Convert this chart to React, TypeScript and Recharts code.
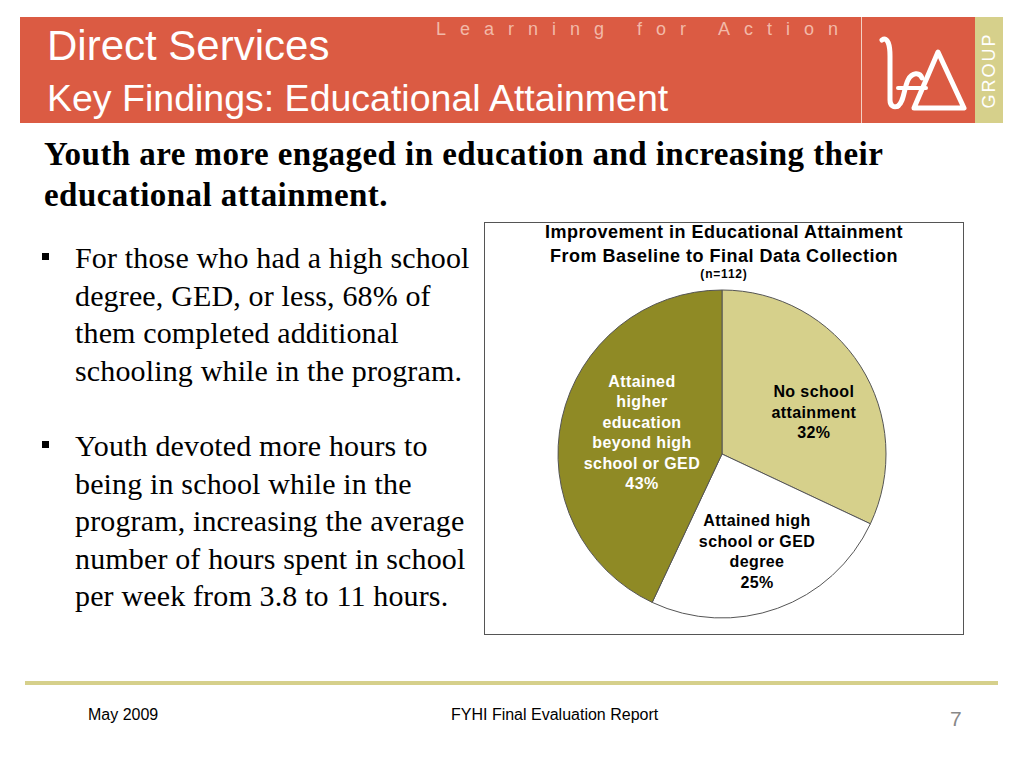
import { Cell, Pie, PieChart } from 'recharts'

// educational attainment at final data collection (n=112)
const categories = ['No school attainment', 'Attained high school or GED degree', 'Attained higher education beyond high school or GED']
const shares = [32, 25, 43]
const labelLines = [
  ['No school', 'attainment'],
  ['Attained high', 'school or GED', 'degree'],
  ['Attained', 'higher', 'education', 'beyond high', 'school or GED'],
]
const chartTitle = ['Improvement in Educational Attainment', 'From Baseline to Final Data Collection']
const sampleNote = '(n=112)'

const bullets = [
  ['For those who had a high school', 'degree, GED, or less, 68% of', 'them completed additional', 'schooling while in the program.'],
  ['Youth devoted more hours to', 'being in school while in the', 'program, increasing the average', 'number of hours spent in school', 'per week from 3.8 to 11 hours.'],
]

const SLICE_FILL = ['#D6D08B', '#FFFFFF', '#8F8A25']
const LABEL_FILL = ['#000000', '#000000', '#FFFFFF']
const RED = '#DB5B43'
const KHAKI = '#D6D08B'
const SANS = "'Liberation Sans', Arial, sans-serif"
const SERIF = "'Liberation Serif', 'Times New Roman', serif"

const data = categories.map((name, i) => ({ name, value: shares[i] }))

const RADIAN = Math.PI / 180
const LABEL_RADIUS = [0.62, 0.63, 0.5]
const LABEL_NUDGE = [[6, 12], [0, 0], [0, -4]]

function SliceLabel(props: any) {
  const { cx, cy, midAngle, outerRadius, index, value } = props
  const r = outerRadius * LABEL_RADIUS[index]
  const x = cx + r * Math.cos(-midAngle * RADIAN) + LABEL_NUDGE[index][0]
  const y = cy + r * Math.sin(-midAngle * RADIAN) + LABEL_NUDGE[index][1]
  const lines = [...labelLines[index], `${value}%`]
  const lh = 20.5
  const top = y - ((lines.length - 1) * lh) / 2
  return (
    <text
      x={x}
      y={top}
      textAnchor="middle"
      dominantBaseline="central"
      fill={LABEL_FILL[index]}
      style={{ fontFamily: SANS, fontSize: 16, fontWeight: 700, letterSpacing: 0.4 }}
    >
      {lines.map((ln, i) => (
        <tspan key={i} x={x} y={top + i * lh}>
          {ln}
        </tspan>
      ))}
    </text>
  )
}

function Logo() {
  return (
    <svg width={100} height={100} style={{ position: 'absolute', left: 868, top: 22 }}>
      <path d="M14 18 C 20 14, 22 24, 22 34 L 22 78 C 22 84, 26 86, 30 84" stroke="#fff" strokeWidth={5} fill="none" strokeLinecap="round" />
      <path d="M30 84 C 36 80, 36 66, 40 58 C 44 50, 52 50, 54 56" stroke="#fff" strokeWidth={5} fill="none" strokeLinecap="round" />
      <path d="M30 66 L 58 66" stroke="#fff" strokeWidth={4} fill="none" strokeLinecap="round" />
      <path d="M70 30 L 96 86 L 46 86 Z" stroke="#fff" strokeWidth={5} fill="none" strokeLinejoin="round" />
    </svg>
  )
}

export default function App() {
  return (
    <div style={{ position: 'absolute', left: 0, top: 0, width: 1024, height: 768, background: '#fff', overflow: 'hidden' }}>
      {/* header band */}
      <div style={{ position: 'absolute', left: 20, top: 17, width: 955, height: 106, background: RED }} />
      <div style={{ position: 'absolute', left: 975, top: 17, width: 28, height: 106, background: KHAKI }} />
      <div style={{ position: 'absolute', left: 861, top: 17, width: 1, height: 106, background: '#F3D0C4' }} />
      <div
        style={{
          position: 'absolute', left: 975, top: 17, width: 28, height: 106, display: 'flex',
          alignItems: 'center', justifyContent: 'center',
        }}
      >
        <span style={{ transform: 'rotate(-90deg)', color: '#fff', fontFamily: SANS, fontSize: 18, letterSpacing: 2, whiteSpace: 'nowrap' }}>
          GROUP
        </span>
      </div>
      <Logo />
      <div style={{ position: 'absolute', left: 436, top: 18, color: '#F2B9A8', fontFamily: SANS, fontSize: 18, letterSpacing: 14, whiteSpace: 'nowrap', lineHeight: '22px' }}>
        Learning for Action
      </div>
      <div style={{ position: 'absolute', left: 47, top: 22, color: '#fff', fontFamily: SANS, fontSize: 42, lineHeight: '48px', whiteSpace: 'nowrap' }}>
        Direct Services
      </div>
      <div style={{ position: 'absolute', left: 47, top: 77, color: '#fff', fontFamily: SANS, fontSize: 37.5, lineHeight: '42px', whiteSpace: 'nowrap' }}>
        Key Findings: Educational Attainment
      </div>

      {/* lead sentence */}
      <div style={{ position: 'absolute', left: 44, top: 134, fontFamily: SERIF, fontWeight: 700, fontSize: 33, letterSpacing: 0.45, lineHeight: '41px', color: '#000', whiteSpace: 'nowrap' }}>
        <div>Youth are more engaged in education and increasing their</div>
        <div>educational attainment.</div>
      </div>

      {/* bullets */}
      {bullets.map((lines, b) => (
        <div key={b} style={{ position: 'absolute', left: 40, top: b === 0 ? 239 : 427, fontFamily: SERIF, fontSize: 30, letterSpacing: 0.15, lineHeight: '37.5px', color: '#000' }}>
          <div style={{ position: 'absolute', left: 2, top: 14, width: 7, height: 7, background: '#000' }} />
          {lines.map((ln, i) => (
            <div key={i} style={{ paddingLeft: 35, whiteSpace: 'nowrap' }}>{ln}</div>
          ))}
        </div>
      ))}

      {/* chart box */}
      <div style={{ position: 'absolute', left: 484, top: 222, width: 478, height: 411, border: '1px solid #555', background: '#fff' }}>
        <div style={{ position: 'absolute', left: 0, top: -3, width: 478, textAlign: 'center', fontFamily: SANS, fontWeight: 700, fontSize: 18, letterSpacing: 0.5, lineHeight: '24px', color: '#000' }}>
          {chartTitle.map((t) => (
            <div key={t} style={{ whiteSpace: 'nowrap' }}>{t}</div>
          ))}
          <div style={{ fontSize: 12, letterSpacing: 0.8, lineHeight: '12px' }}>{sampleNote}</div>
        </div>
        <PieChart width={478} height={411} margin={{ top: 0, right: 0, bottom: 0, left: 0 }} style={{ position: 'absolute', left: 0, top: 0 }}>
          <Pie
            data={data}
            dataKey="value"
            nameKey="name"
            cx={237}
            cy={231}
            outerRadius={164}
            startAngle={90}
            endAngle={-270}
            stroke="#555"
            strokeWidth={1}
            label={SliceLabel}
            labelLine={false}
            isAnimationActive={false}
          >
            {data.map((d, i) => (
              <Cell key={d.name} fill={SLICE_FILL[i]} />
            ))}
          </Pie>
        </PieChart>
      </div>

      {/* footer */}
      <div style={{ position: 'absolute', left: 25, top: 681, width: 973, height: 4, background: KHAKI }} />
      <div style={{ position: 'absolute', left: 88, top: 706, fontFamily: SANS, fontSize: 16, color: '#000' }}>May 2009</div>
      <div style={{ position: 'absolute', left: 451, top: 706, fontFamily: SANS, fontSize: 16, color: '#000' }}>FYHI Final Evaluation Report</div>
      <div style={{ position: 'absolute', left: 950, top: 707, fontFamily: SANS, fontSize: 21, color: '#888' }}>7</div>
    </div>
  )
}
